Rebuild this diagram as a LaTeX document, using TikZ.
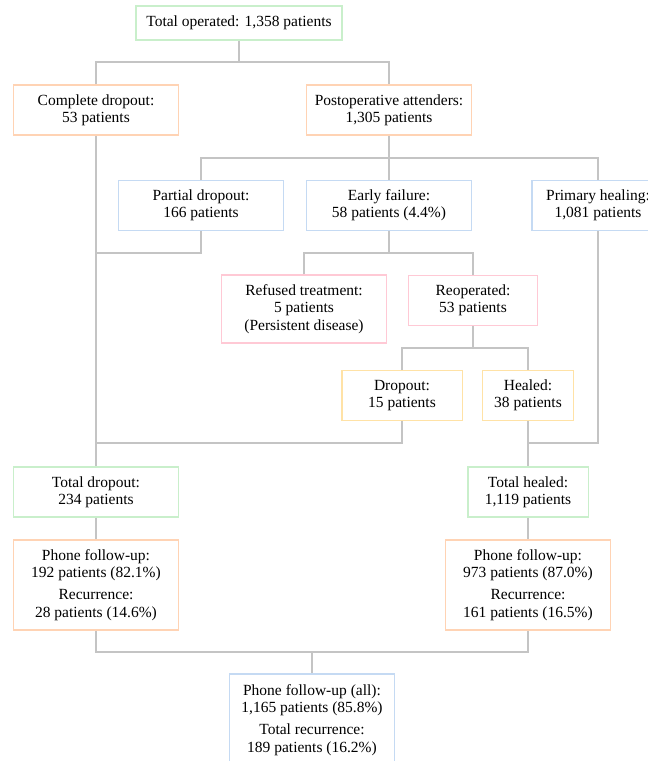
\documentclass[tikz,border=0pt]{standalone}
\usepackage{fontspec}
\setmainfont{Liberation Serif}
\usepackage{xcolor}
\definecolor{mint}{HTML}{C9EFCB}
\definecolor{peach}{HTML}{FFD3B4}
\definecolor{sky}{HTML}{C5DAF3}
\definecolor{rose}{HTML}{FFC9D5}
\definecolor{sand}{HTML}{FFE2A6}
\definecolor{wire}{HTML}{C4C4C4}
\tikzset{
  box/.style={draw,fill=white,line width=1.5pt,align=center,inner sep=0pt,
    minimum width=165pt,minimum height=50pt},
  gbox/.style={box,draw=mint},
  obox/.style={box,draw=peach},
  bbox/.style={box,draw=sky},
  pbox/.style={box,draw=rose},
  ybox/.style={box,draw=sand},
  link/.style={wire,line width=1.3pt}
}

\begin{document}
\begin{tikzpicture}[x=1pt,y=-1pt,font=\fontsize{15.5}{17.3}\selectfont]
\useasboundingbox (0,0) rectangle (648,761);
% rows of the flow
\node[gbox,minimum width=206pt,minimum height=34pt] (total) at (239,23) {Total operated: 1,358 patients};
\node[obox] (cdrop) at (96,110) {Complete dropout:\\53 patients};
\node[obox] (attend) at (389,110) {Postoperative attenders:\\1,305 patients};
\node[bbox] (partial) at (201,205.5) {Partial dropout:\\166 patients};
\node[bbox] (early) at (389,205.5) {Early failure:\\58 patients (4.4\%)};
\node[bbox,minimum width=132pt] (primary) at (598,205.5) {Primary healing:\\1,081 patients};
\node[pbox,minimum height=68pt] (refused) at (304,309) {Refused treatment:\\5 patients\\(Persistent disease)};
\node[pbox,minimum width=129pt] (reop) at (473,300.5) {Reoperated:\\53 patients};
\node[ybox,minimum width=120.5pt] (drop) at (402,395.5) {Dropout:\\15 patients};
\node[ybox,minimum width=91pt] (healed) at (528,395.5) {Healed:\\38 patients};
\node[gbox] (totdrop) at (96,492) {Total dropout:\\234 patients};
\node[gbox,minimum width=120.5pt] (totheal) at (528,492) {Total healed:\\1,119 patients};
\node[obox,minimum height=90pt] (phoneL) at (96,585) {Phone follow-up:\\192 patients (82.1\%)\\[5pt]Recurrence:\\28 patients (14.6\%)};
\node[obox,minimum height=90pt] (phoneR) at (528,585) {Phone follow-up:\\973 patients (87.0\%)\\[5pt]Recurrence:\\161 patients (16.5\%)};
\node[bbox,minimum height=92pt] (all) at (312,720) {Phone follow-up (all):\\1,165 patients (85.8\%)\\[5pt]Total recurrence:\\189 patients (16.2\%)};
% bus levels
\coordinate (bus1) at (0,62);
\coordinate (bus2) at (0,158);
\coordinate (bus3) at (0,253);
\coordinate (bus4) at (0,348);
\coordinate (bus5) at (0,443);
\coordinate (bus6) at (0,652);
% connectors
\draw[link] (total.south) -- (total |- bus1);
\draw[link] (cdrop.north) |- (attend |- bus1) -- (attend.north);
\draw[link] (attend.south) -- (attend |- bus2);
\draw[link] (partial.north) |- (primary |- bus2) -- (primary.north);
\draw[link] (early.north) -- (early |- bus2);
\draw[link] (cdrop.south) -- (totdrop.north);
\draw[link] (partial.south) |- (cdrop |- bus3);
\draw[link] (early.south) -- (early |- bus3);
\draw[link] (refused.north) |- (reop |- bus3) -- (reop.north);
\draw[link] (reop.south) -- (reop |- bus4);
\draw[link] (drop.north) |- (healed |- bus4) -- (healed.north);
\draw[link] (drop.south) |- (cdrop |- bus5);
\draw[link] (primary.south) |- (healed |- bus5);
\draw[link] (healed.south) -- (totheal.north);
\draw[link] (totdrop) -- (phoneL);
\draw[link] (totheal) -- (phoneR);
\draw[link] (phoneL.south) |- (phoneR |- bus6) -- (phoneR.south);
\draw[link] (all.north) -- (all |- bus6);
\end{tikzpicture}
\end{document}
